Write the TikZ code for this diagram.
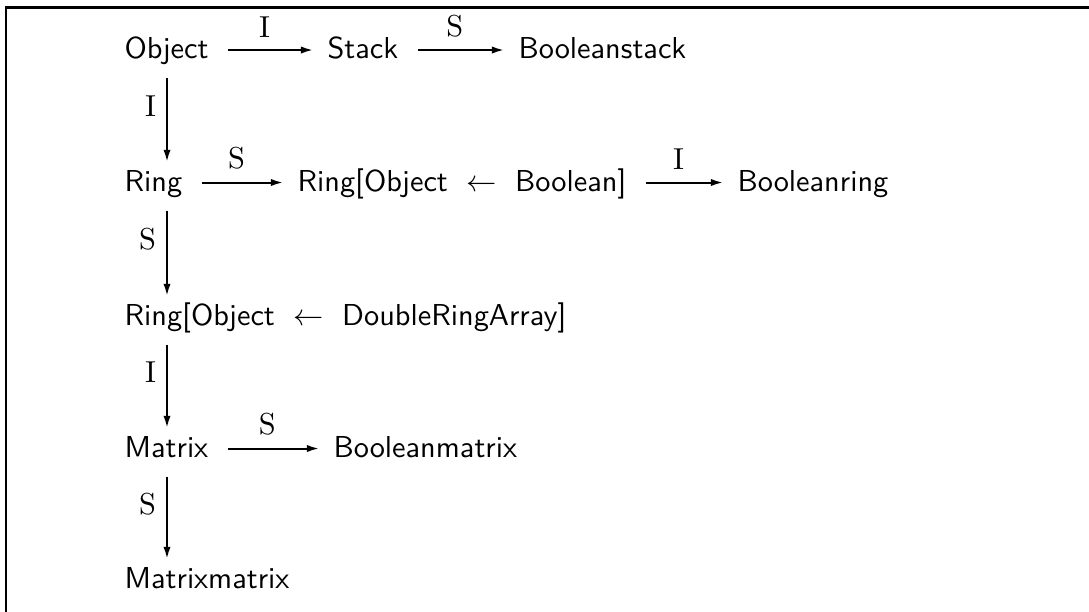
\documentclass[tikz,border=0pt]{standalone}
\usetikzlibrary{arrows.meta}
\tikzset{
  obj/.style={inner sep=0pt, anchor=base west, font=\sffamily, text height=0.78em, text depth=0.22em},
  harr/.style={-{Latex[length=4pt,width=2.4pt]}, line width=0.66pt, shorten <=6.27pt, shorten >=4.6pt},
  varr/.style={-{Latex[length=4pt,width=2.4pt]}, line width=0.66pt, shorten <=4.06pt, shorten >=1.6pt},
  hlab/.style={inner sep=0pt, font=\rmfamily, pos=0.47, above=3.96pt},
  vlab/.style={inner sep=0pt, font=\rmfamily, pos=0.5, anchor=base east, xshift=-3.3pt},
  frameline/.style={line width=0.8pt},
}
\begin{document}
\begin{tikzpicture}[x=0.33pt,y=-0.33pt]
\useasboundingbox (0,0) rectangle (1089,611);
\begin{scope}
  \clip (0,0) rectangle (1089,611);
  \draw[frameline] (6,640) -- (6,7.5) -- (1120,7.5);
\end{scope}
\coordinate (ax) at (167,0);
% nodes
\node[obj] (obj) at (124,58.5) {Object};
\node[obj] (stack) at (327,58.5) {Stack};
\node[obj] (bstack) at (518,58.5) {Booleanstack};
\node[obj] (ring) at (124,191) {Ring};
\node[obj] (rob) at (297,191) {Ring[Object\ $\;\leftarrow\;$\ Boolean]};
\node[obj] (bring) at (737,191) {Booleanring};
\node[obj] (rod) at (124,325) {Ring[Object\ $\;\leftarrow\;$\ DoubleRingArray]};
\node[obj] (mat) at (124,457) {Matrix};
\node[obj] (bmat) at (333,457) {Booleanmatrix};
\node[obj] (mm) at (124,588) {Matrixmatrix};
% horizontal arrows
\draw[harr] (obj.east) -- (stack.west) node[hlab] {I};
\draw[harr] (stack.east) -- (bstack.west) node[hlab] {S};
\draw[harr] (ring.east) -- (rob.west) node[hlab] {S};
\draw[harr] (rob.east) -- (bring.west) node[hlab] {I};
\draw[harr] (mat.east) -- (bmat.west) node[hlab] {S};
% vertical arrows
\draw[varr] (ax |- obj.south) -- (ax |- ring.north) node[vlab] {I};
\draw[varr] (ax |- ring.south) -- (ax |- rod.north) node[vlab] {S};
\draw[varr] (ax |- rod.south) -- (ax |- mat.north) node[vlab] {I};
\draw[varr] (ax |- mat.south) -- (ax |- mm.north) node[vlab] {S};
\end{tikzpicture}
\end{document}
